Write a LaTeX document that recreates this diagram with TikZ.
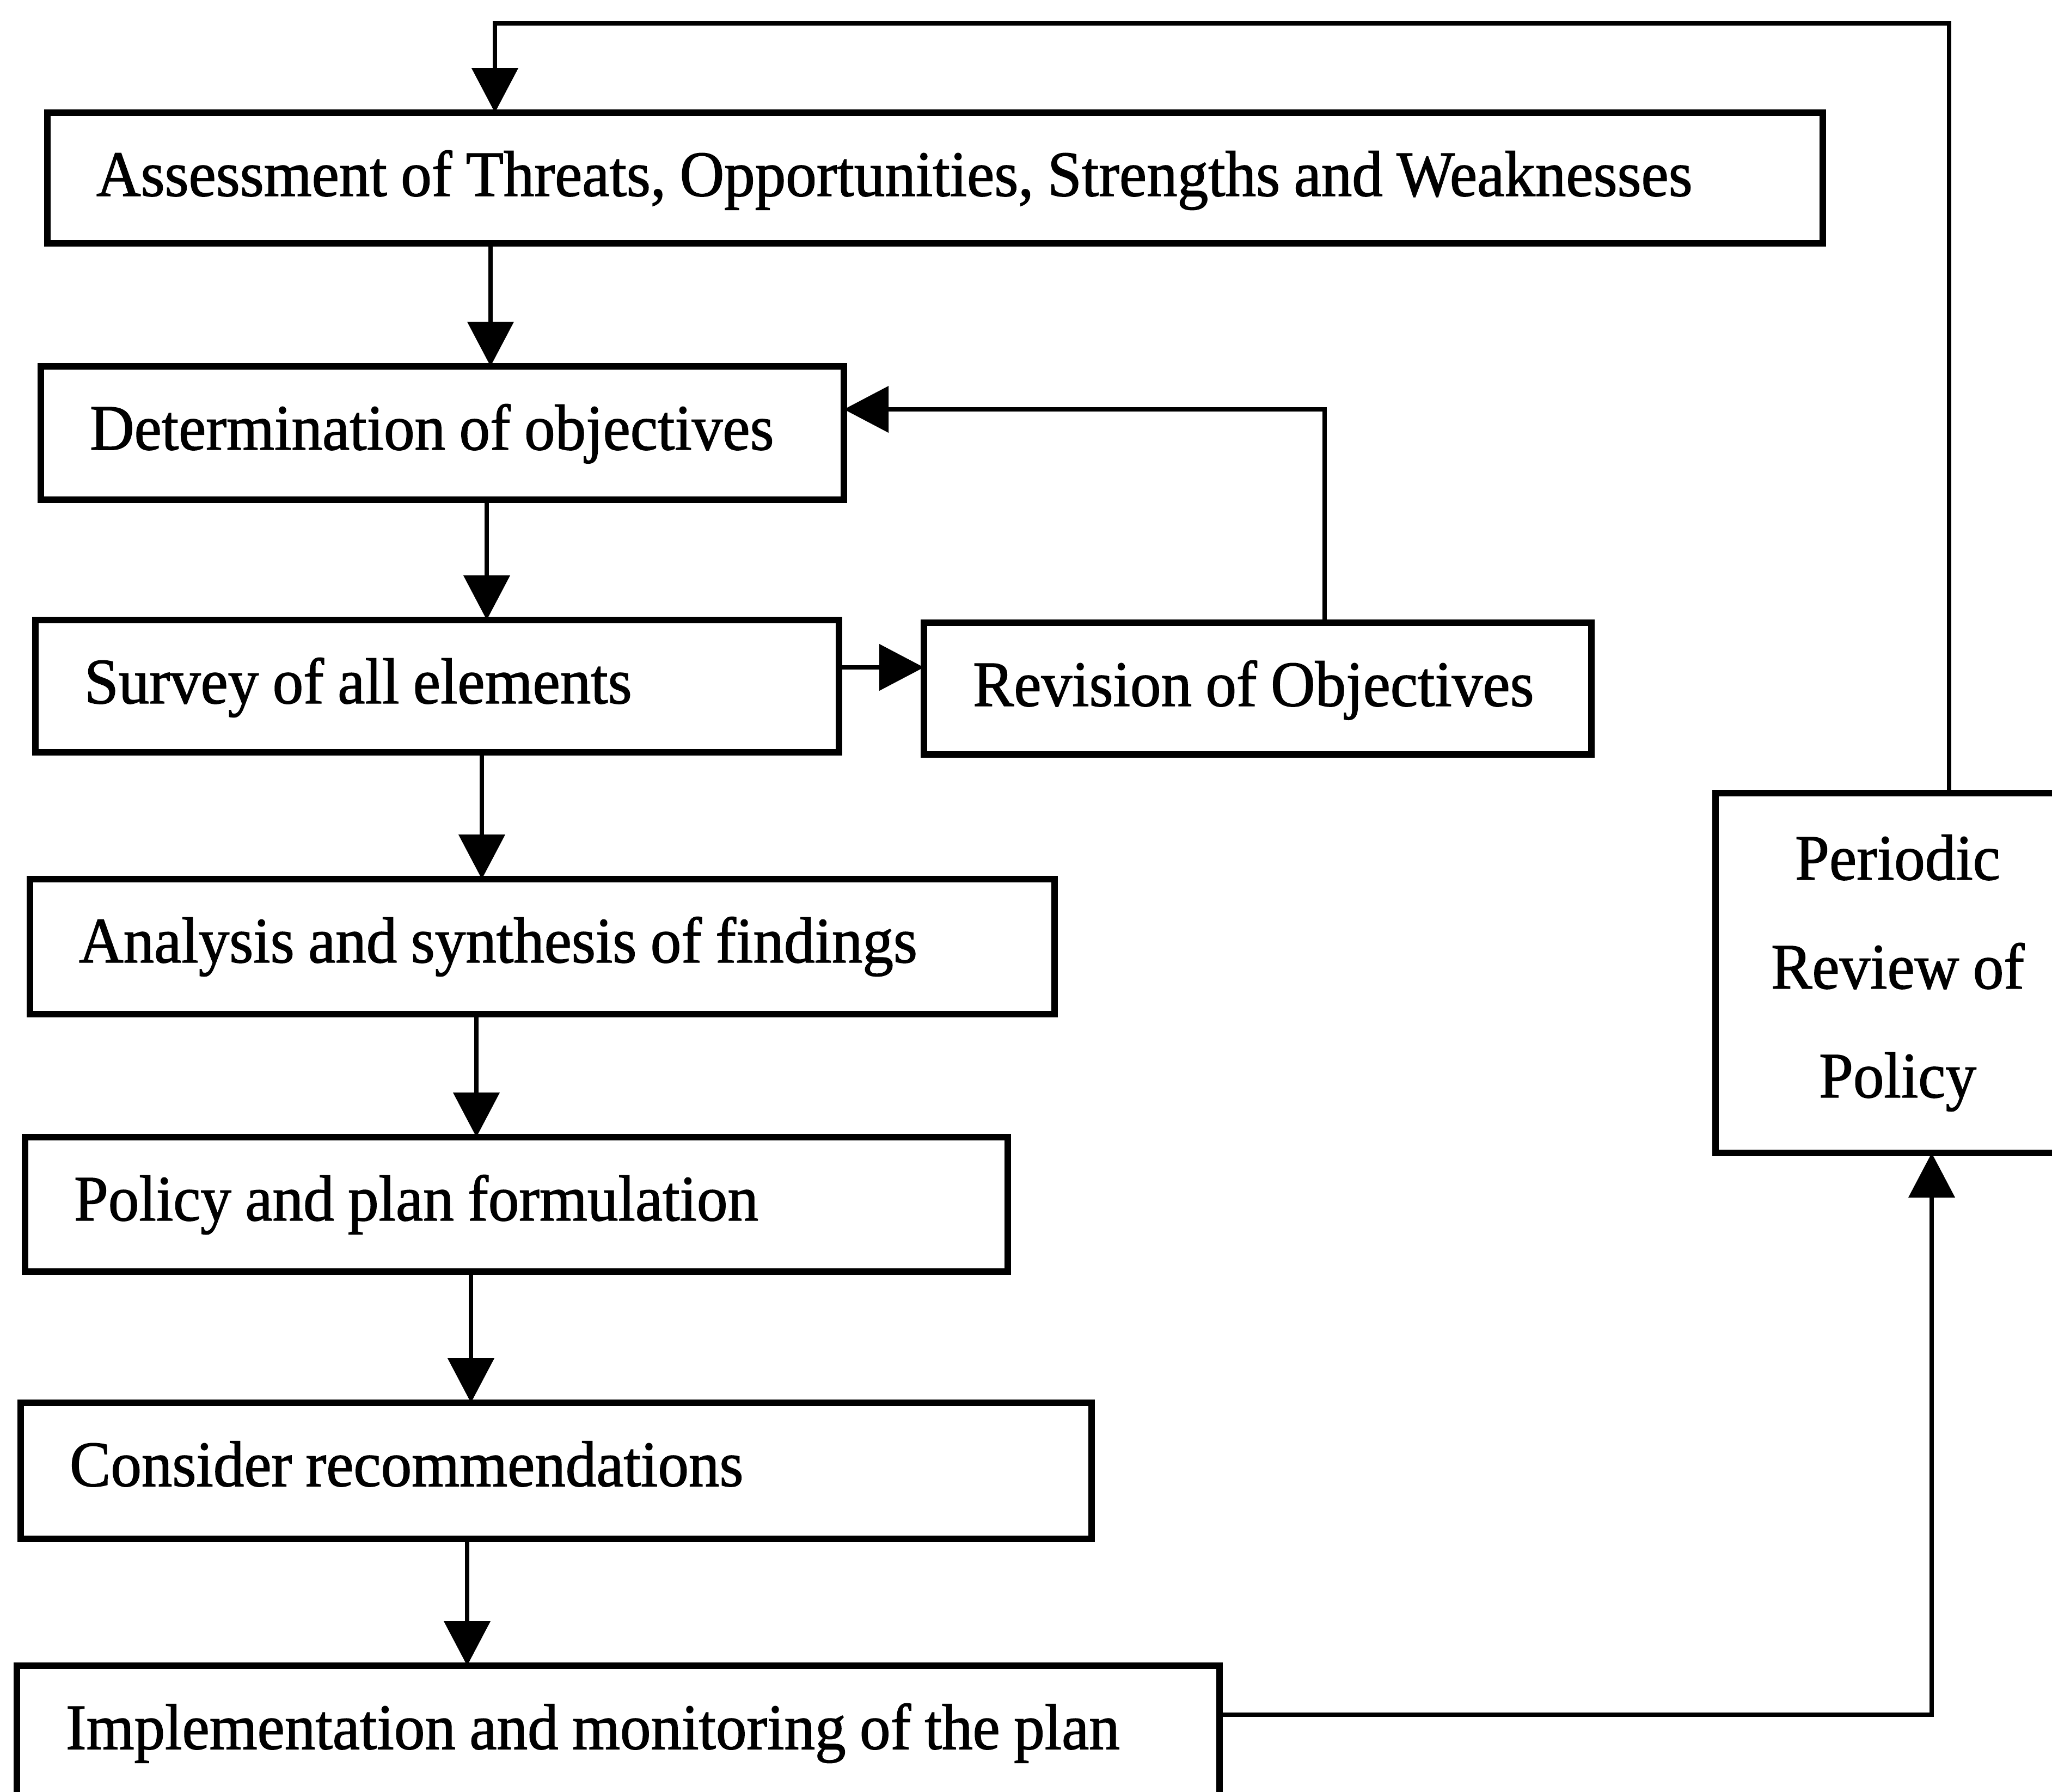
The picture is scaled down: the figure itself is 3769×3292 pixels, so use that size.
\documentclass[tikz,border=0pt]{standalone}
\usepackage{fontspec}
\setmainfont[FakeStretch=0.95,WordSpace={0.9,0,0},FakeBold=1.2]{Liberation Serif}
\usetikzlibrary{arrows.meta}

% left-aligned label of a given width
\newcommand{\boxtext}[2]{\makebox[#1][l]{#2}}

\tikzset{
  flowbox/.style={draw, line width=12pt, rectangle, anchor=north west,
    outer sep=0pt, inner xsep=90pt, inner ysep=0pt,
    text height=153pt, font=\fontsize{119}{200}\selectfont},
  reviewbox/.style={draw, line width=12pt, rectangle, anchor=north west,
    outer sep=0pt, inner xsep=20pt, inner ysep=0pt, align=flush center,
    font=\fontsize{119}{200}\selectfont},
  arr/.style={line width=8pt, line join=miter,
    -{Triangle[width=84pt,length=82pt]}}
}

\begin{document}
\begin{tikzpicture}[x=1pt,y=-1pt]
\path[use as bounding box] (0,0) rectangle (3769,3292);
\clip (0,0) rectangle (3769,3292);

% main sequence of steps
\node[flowbox, text depth=87pt]  (assess) at (87,207)
  {\boxtext{3081pt}{Assessment of Threats, Opportunities, Strengths and Weaknesses}};
\node[flowbox, text depth=92pt]  (determ) at (75,673)
  {\boxtext{1295pt}{Determination of objectives}};
\node[flowbox, text depth=90pt]  (survey) at (65,1139)
  {\boxtext{1296pt}{Survey of all elements}};
\node[flowbox, text depth=89pt]  (revise) at (1697,1144)
  {\boxtext{1046pt}{Revision of Objectives}};
\node[flowbox, text depth=95pt]  (analys) at (55,1615)
  {\boxtext{1702pt}{Analysis and synthesis of findings}};
\node[flowbox, text depth=94pt]  (policy) at (46,2089)
  {\boxtext{1625pt}{Policy and plan formulation}};
\node[flowbox, text depth=97pt]  (recomm) at (38,2577)
  {\boxtext{1787pt}{Consider recommendations}};
\node[flowbox, text depth=147pt] (implem) at (31,3060)
  {\boxtext{2029pt}{Implementation and monitoring of the plan}};

% review step on the right
\node[reviewbox, text width=629pt, minimum height=661pt] (review) at (3151,1457)
  {Periodic\\Review of\\Policy};

% bend points of the connectors
\coordinate (c1) at (901,0);
\coordinate (c2) at (894,0);
\coordinate (c3) at (885,0);
\coordinate (c4) at (875,0);
\coordinate (c5) at (865,0);
\coordinate (c6) at (858,0);
\coordinate (loopR) at (3580,43);
\coordinate (loopL) at (909,43);
\coordinate (revTurn) at (2433,752);
\coordinate (toRev) at (0,1226);
\coordinate (implTurn) at (3548,3150);

% downward flow
\draw[arr] (assess.south -| c1) -- (determ.north -| c1);
\draw[arr] (determ.south -| c2) -- (survey.north -| c2);
\draw[arr] (survey.south -| c3) -- (analys.north -| c3);
\draw[arr] (analys.south -| c4) -- (policy.north -| c4);
\draw[arr] (policy.south -| c5) -- (recomm.north -| c5);
\draw[arr] (recomm.south -| c6) -- (implem.north -| c6);

% revision loop
\draw[arr] (survey.east |- toRev) -- (revise.west |- toRev);
\draw[arr] (revise.north -| revTurn) -- (revTurn) -- (determ.east |- revTurn);

% review loop
\draw[arr] (implem.east |- implTurn) -- (implTurn) -- (review.south -| implTurn);
\draw[arr] (review.north -| loopR) -- (loopR) -- (loopL) -- (assess.north -| loopL);
\end{tikzpicture}
\end{document}
